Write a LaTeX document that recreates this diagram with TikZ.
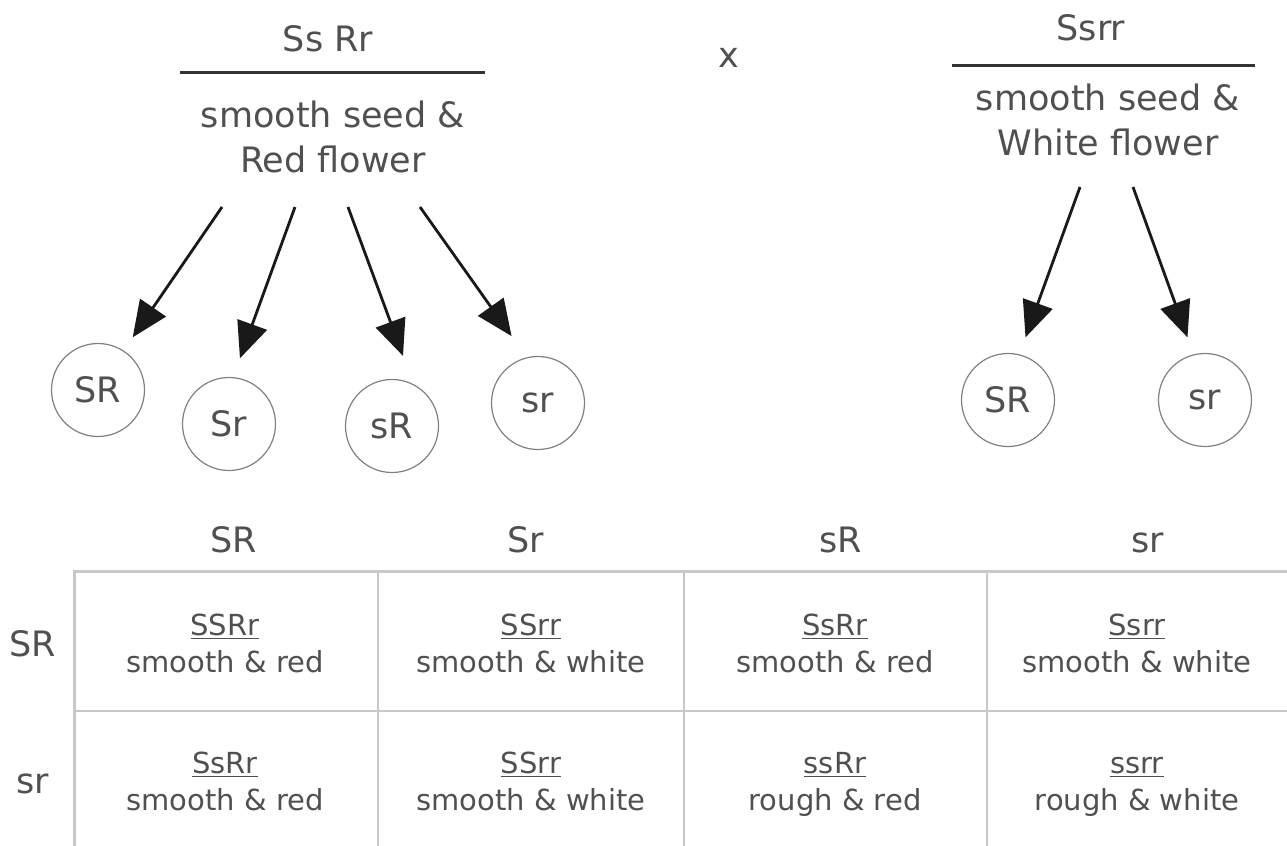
\documentclass[tikz,border=0pt]{standalone}
\usepackage{fontspec}
\setmainfont{DejaVu Sans}
\usetikzlibrary{arrows.meta}
\definecolor{txtgray}{RGB}{80,80,80}
\definecolor{gridgray}{RGB}{200,200,200}

\begin{document}
\begin{tikzpicture}[x=0.5pt,y=-0.5pt,
	lbl/.style={font=\fontsize{17.5}{21}\selectfont,text=txtgray,inner sep=0pt,anchor=base},
	cel/.style={font=\fontsize{14.5}{18}\selectfont,text=txtgray,inner sep=0pt,anchor=base},
	gam/.style={circle,draw=gray,line width=0.6pt,minimum size=46.5pt,inner sep=0pt,font=\fontsize{17.5}{21}\selectfont,text=txtgray},
	arr/.style={-{Triangle[length=18pt,width=15.5pt]},line width=1.4pt,draw=black!90}]
	\useasboundingbox (0,0) rectangle (1287,846);
	% parents
	\node [lbl] (pA) at (328,52) {Ss Rr};
	\node [lbl] (pA1) at (333,127) {smooth seed \&};
	\node [lbl] (pA2) at (333,172) {Red flower};
	\node [lbl] (cross) at (729,68) {x};
	\node [lbl] (pB) at (1091,40) {Ssrr};
	\node [lbl] (pB1) at (1108,110) {smooth seed \&};
	\node [lbl] (pB2) at (1108,155) {White flower};
	\draw [line width=1.5pt,black!80] (180,72) -- (485,72);
	\draw [line width=1.5pt,black!80] (952,65) -- (1255,65);
	% gametes
	\node [gam] (g1) at (98,390) {SR};
	\node [gam] (g2) at (229,424) {Sr};
	\node [gam] (g3) at (392,426) {sR};
	\node [gam] (g4) at (538,403) {sr};
	\node [gam] (g5) at (1008,400) {SR};
	\node [gam] (g6) at (1205,400) {sr};
	\coordinate (a1) at (222,207);
	\coordinate (a2) at (295,207);
	\coordinate (a3) at (348,207);
	\coordinate (a4) at (420,207);
	\coordinate (a5) at (1080,187);
	\coordinate (a6) at (1133,187);
	%
	\draw [arr,shorten >=8pt] (a1) -- (g1.57);
	\draw [arr,shorten >=10pt] (a2) -- (g2.85);
	\draw [arr,shorten >=15pt] (a3) -- (g3.63);
	\draw [arr,shorten >=13pt] (a4) -- (g4.104);
	\draw [arr,shorten >=9pt] (a5) -- (g5.76);
	\draw [arr,shorten >=9pt] (a6) -- (g6.104);
	% punnett square
	\draw [gridgray,line width=1.5pt] (74,846) -- (74,571) -- (1287,571);
	\draw [gridgray,line width=0.8pt] (74,711) -- (1287,711);
	\draw [gridgray,line width=0.8pt] (378,571) -- (378,846);
	\draw [gridgray,line width=0.8pt] (684,571) -- (684,846);
	\draw [gridgray,line width=0.8pt] (987,571) -- (987,846);
	\node [lbl] (h1) at (234,552) {SR};
	\node [lbl] (h2) at (526,552) {Sr};
	\node [lbl] (h3) at (841,552) {sR};
	\node [lbl] (h4) at (1148,552) {sr};
	\node [lbl] (r1) at (33,656) {SR};
	\node [lbl] (r2) at (33,793) {sr};
	%
	\node [cel] (c11) at (225,635) {\underline{SSRr}};
	\node [cel] (t11) at (225,672) {smooth \& red};
	\node [cel] (c12) at (531,635) {\underline{SSrr}};
	\node [cel] (t12) at (531,672) {smooth \& white};
	\node [cel] (c13) at (835,635) {\underline{SsRr}};
	\node [cel] (t13) at (835,672) {smooth \& red};
	\node [cel] (c14) at (1137,635) {\underline{Ssrr}};
	\node [cel] (t14) at (1137,672) {smooth \& white};
	\node [cel] (c21) at (225,773) {\underline{SsRr}};
	\node [cel] (t21) at (225,810) {smooth \& red};
	\node [cel] (c22) at (531,773) {\underline{SSrr}};
	\node [cel] (t22) at (531,810) {smooth \& white};
	\node [cel] (c23) at (835,773) {\underline{ssRr}};
	\node [cel] (t23) at (835,810) {rough \& red};
	\node [cel] (c24) at (1137,773) {\underline{ssrr}};
	\node [cel] (t24) at (1137,810) {rough \& white};
\end{tikzpicture}
\end{document}
